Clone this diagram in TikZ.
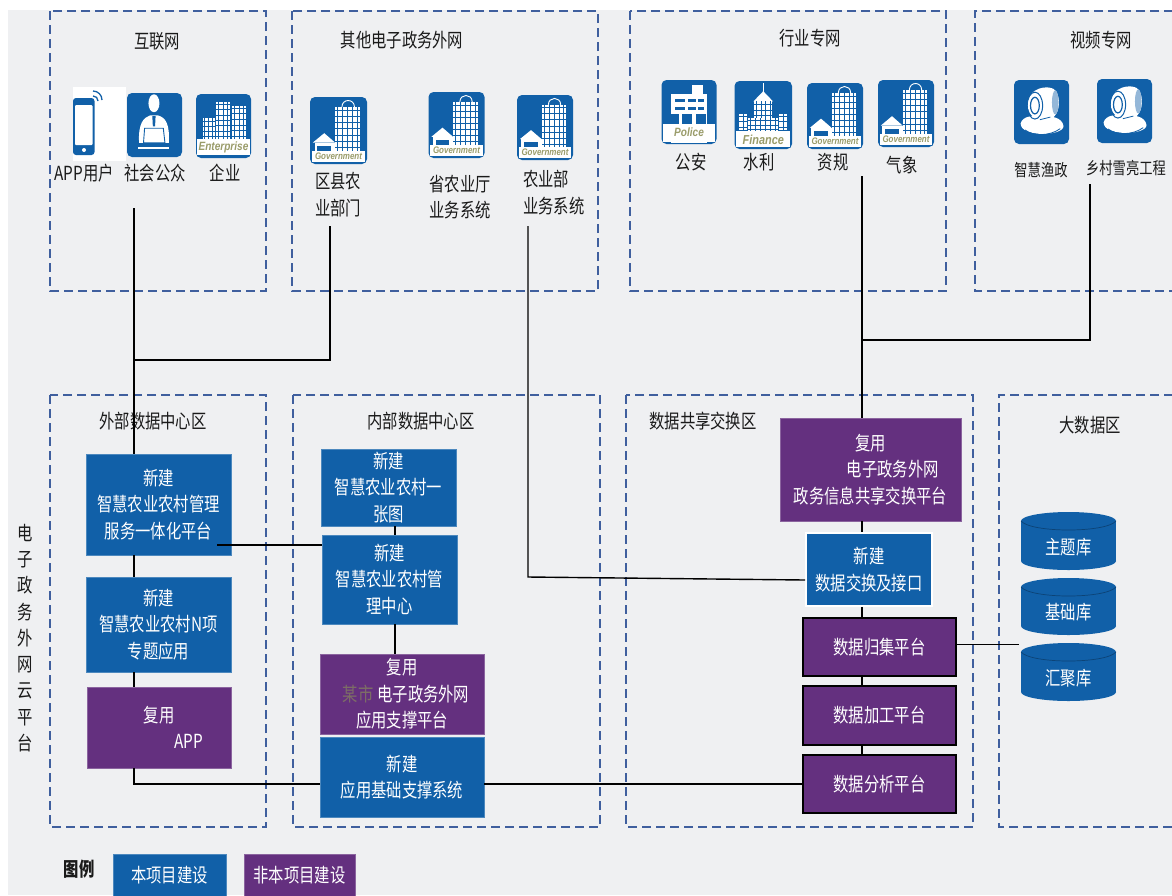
\documentclass[tikz,border=0pt]{standalone}
\usepackage{fontspec}
\setmainfont[FakeStretch=0.79]{Noto Sans CJK SC}
\newfontfamily\latinlab[FakeStretch=0.84]{Liberation Sans}
\definecolor{pagebg}{HTML}{EFF0F2}
\definecolor{zonecol}{HTML}{3F5F9E}
\definecolor{blu}{HTML}{1160A8}
\definecolor{pur}{HTML}{64307F}
\definecolor{olive}{HTML}{9A9C6A}
\definecolor{ink}{HTML}{1A1A1A}
\definecolor{dimtxt}{HTML}{7D6E66}
\tikzset{
  x=1pt,y=-1pt,
  zone/.style={draw=zonecol,line width=1.2pt,dash pattern=on 9pt off 5pt},
  lab/.style={text=ink,inner sep=0pt,font=\fontsize{19.4}{26.5}\selectfont,align=center},
  labs/.style={text=ink,inner sep=0pt,font=\fontsize{16.8}{20}\selectfont,align=center},
  blubox/.style={fill=blu,draw=blu!75!white,line width=.6pt,text=white,align=center,inner sep=0pt,font=\fontsize{19.4}{26.5}\selectfont},
  purbox/.style={fill=pur,draw=pur!75!white,line width=.6pt,text=white,align=center,inner sep=0pt,font=\fontsize{19.4}{26.5}\selectfont},
  purblk/.style={purbox,draw=black,line width=1.2pt},
  blwht/.style={blubox,draw=white,line width=1.6pt},
  conn/.style={draw=black,line width=1.4pt},
  dblab/.style={text=white,inner sep=0pt,font=\fontsize{19.4}{26}\selectfont},
  tile/.style={fill=blu,rounded corners=5pt},
  band/.style={inner sep=0pt,text=olive,font=\latinlab\bfseries\itshape\fontsize{9.5}{10}\selectfont},
  bandb/.style={inner sep=0pt,text=olive,font=\latinlab\bfseries\itshape\fontsize{12}{13}\selectfont},
}
\newcommand\bx[7]{%
  \pgfmathsetmacro\bw{#4-#2}\pgfmathsetmacro\bh{#5-#3}%
  \pgfmathsetmacro\bcx{(#2+#4)/2}\pgfmathsetmacro\bcy{(#3+#5)/2}%
  \node[#6,minimum width=\bw pt,minimum height=\bh pt] (#1) at (\bcx,\bcy) {#7};}
\newcommand\startIcon[4]{%
  \pgfmathsetmacro\ux{(#3-#1)/100}\pgfmathsetmacro\uy{(#4-#2)/100}%
  \begin{scope}[shift={(#1,#2)},x=\ux pt,y=-\uy pt]
  \fill[tile] (0,0) rectangle (100,100);}
\newcommand\gridrect[6]{%
  \fill[white] (#1,#2) rectangle (#3,#4);
  \pgfmathsetmacro\dx{(#3-#1)/#5}\pgfmathsetmacro\dy{(#4-#2)/#6}%
  \foreach \i in {1,...,#5}{\draw[blu,line width=.7pt] ({#1+\i*\dx-\dx/2},#2) -- ({#1+\i*\dx-\dx/2},#4);}
  \foreach \j in {1,...,#6}{\draw[blu,line width=.7pt] (#1,{#2+\j*\dy-\dy/2}) -- (#3,{#2+\j*\dy-\dy/2});}}
\newcommand\govicon[5]{%
  \startIcon{#2}{#3}{#4}{#5}
  \draw[white,line width=.9pt] (56,15) .. controls (56,2) and (78,2) .. (78,15);
  \gridrect{44}{15}{88}{80}{5}{7}
  \fill[white] (8,80) rectangle (44,68);
  \fill[white] (5,68) -- (25,54) -- (44,68) -- cycle;
  \fill[blu] (13,80) rectangle (37,73);
  \fill[white] (3,80) rectangle (97,97);
  \node[band] (#1) at (50,88.5) {Government};
  \end{scope}}
\newcommand\camicon[5]{%
  \startIcon{#2}{#3}{#4}{#5}
  \fill[white] (12,68) .. controls (15,55) and (40,55) .. (50,58) .. controls (65,55) and (88,58) .. (90,72) .. controls (90,88) and (12,90) .. (12,68) -- cycle;
  \fill[white] (25,35) .. controls (28,12) and (60,8) .. (72,14) .. controls (85,22) and (85,48) .. (72,58) .. controls (55,70) and (22,62) .. (25,35) -- cycle;
  \draw[blu,line width=.8pt] (20,78) .. controls (35,88) and (65,88) .. (84,76);
  \fill[white] (42,55) rectangle (62,75);
  \draw[blu,line width=1pt] (38,40) ellipse [x radius=14,y radius=21];
  \draw[blu,line width=1.2pt] (38,40) ellipse [x radius=8,y radius=13];
  \fill[blu!45!white] (75,35) ellipse [x radius=6,y radius=19];
  \draw[blu,line width=.8pt] (47,62) -- (66,58);
  \end{scope}}
\newcommand\dbcyl[6]{% name x1 y1 x2 y2 label
  \pgfmathsetmacro\cxm{(#2+#4)/2}\pgfmathsetmacro\crx{(#4-#2)/2}%
  \pgfmathsetmacro\ctop{#3+9}\pgfmathsetmacro\cbot{#5-9}\pgfmathsetmacro\ctx{(#3+#5)/2+6}%
  \fill[blu] (#2,\ctop) rectangle (#4,\cbot);
  \fill[blu] (\cxm,\ctop) ellipse [x radius=\crx,y radius=9];
  \fill[blu] (\cxm,\cbot) ellipse [x radius=\crx,y radius=9];
  \draw[blu!70!black,line width=.7pt] (#2,\ctop) .. controls (#2+10,\ctop+12) and (#4-10,\ctop+12) .. (#4,\ctop);
  \node[dblab] (#1) at (\cxm,\ctx) {#6};}
\begin{document}
\begin{tikzpicture}
\useasboundingbox (0,0) rectangle (1172,895);
\fill[pagebg] (8,10) rectangle (1172,895);
% upper zones
\draw[zone] (50,11) rectangle (266,291);
\draw[zone] (292,11) rectangle (598,291);
\draw[zone] (630,11) rectangle (946,291);
\draw[zone] (1173,11) -- (975,11) -- (975,291) -- (1173,291);
% lower zones
\draw[zone] (50,395) rectangle (266,827);
\draw[zone] (293,395) rectangle (600,827);
\draw[zone] (626,395) rectangle (973,827);
\draw[zone] (1173,395) -- (999,395) -- (999,827) -- (1173,827);
% zone titles
\node[lab] (t1) at (157,41) {互联网};
\node[lab] (t2) at (402,40) {其他电子政务外网};
\node[lab] (t3) at (810,38) {行业专网};
\node[lab] (t4) at (1101,40) {视频专网};
\node[lab] (t5) at (153,421) {外部数据中心区};
\node[lab] (t6) at (421,421) {内部数据中心区};
\node[lab] (t7) at (703,421) {数据共享交换区};
\node[lab] (t8) at (1090,425) {大数据区};
% vertical title
\node[lab,font=\fontsize{19.4}{26.3}\selectfont] (vt) at (25,638) {电\\子\\政\\务\\外\\网\\云\\平\\台};
% phone icon
\fill[white] (73,87) rectangle (126,161);
\fill[blu,rounded corners=3pt] (73,98) rectangle (94.5,155);
\fill[white,rounded corners=1pt] (75,105) rectangle (92.5,145);
\fill[white] (84,150) circle (2);
\draw[blu,line width=1.3pt] (93,96) .. controls (96,96) and (98,98) .. (98,101);
\draw[blu,line width=1.3pt] (93,91) .. controls (98,91) and (102,95) .. (102,100);
% person icon
\startIcon{127}{93}{182}{157}
\fill[white] (49,16) ellipse [x radius=10,y radius=14];
\fill[white] (22,78) .. controls (20,48) and (30,38) .. (42,35) -- (56,35) .. controls (70,38) and (78,48) .. (76,78) -- cycle;
\fill[blu] (46,36) -- (52,36) -- (51,52) -- (47,52) -- cycle;
\draw[blu,line width=.9pt,fill=white] (32,55) -- (66,55) -- (69,78) -- (30,78) -- cycle;
\fill[white] (20,84) rectangle (76,88);
\end{scope}
% enterprise icon
\startIcon{196}{94}{251}{158}
\gridrect{37}{12}{62}{70}{3}{7}
\gridrect{66}{18}{90}{70}{3}{6}
\gridrect{12}{38}{34}{70}{3}{4}
\fill[white] (2,70) rectangle (98,95);
\node[bandb] (ent) at (50,83) {Enterprise};
\end{scope}
% government icons
\govicon{g1}{310}{97}{367}{164}
\govicon{g2}{428.5}{92}{484.5}{158}
\govicon{g3}{517}{95}{573}{160}
\govicon{g4}{807}{83}{863}{149}
\govicon{g5}{878}{80}{934}{147}
% police icon
\startIcon{661.5}{80}{716.5}{144}
\fill[white] (55,8) rectangle (75,30);
\fill[white] (18,22) rectangle (82,98);
\fill[white] (3,68) rectangle (97,97);
\foreach \yy in {30,42}{\fill[blu] (24,\yy) rectangle (42,\yy+5); \fill[blu] (48,\yy) rectangle (62,\yy+5); \fill[blu] (66,\yy) rectangle (78,\yy+5);}
\foreach \xx in {14,38,62}{\fill[blu] (\xx,53) rectangle (\xx+18,68);}
\node[bandb] (pol) at (50,82) {Police};
\end{scope}
% finance icon
\startIcon{734.5}{81}{792}{149}
\draw[white,line width=1pt] (50,3) -- (50,20);
\fill[white] (33,30) -- (50,15) -- (67,30) -- cycle;
\gridrect{34}{30}{66}{55}{4}{3}
\gridrect{8}{48}{22}{72}{1}{3}
\gridrect{78}{48}{92}{72}{1}{3}
\gridrect{24}{55}{76}{75}{6}{3}
\fill[white] (3,74) rectangle (97,97);
\node[bandb,font=\latinlab\bfseries\itshape\fontsize{13}{14}\selectfont] (fin) at (50,86) {Finance};
\end{scope}
% camera icons
\camicon{cm1}{1014}{80}{1069}{144}
\camicon{cm2}{1097}{79}{1152}{143}
% icon captions
\node[lab] (a1) at (84,173) {APP用户};
\node[lab] (a2) at (155,173) {社会公众};
\node[lab] (a3) at (225,173) {企业};
\node[lab] (b1) at (338,194.5) {区县农\\业部门};
\node[lab] (b2) at (460,197) {省农业厅\\业务系统};
\node[lab,anchor=west,align=left] (b3) at (523,192.5) {农业部\\业务系统};
\node[lab] (c1) at (691,162) {公安};
\node[lab] (c2) at (759,162) {水利};
\node[lab] (c3) at (833,162) {资规};
\node[lab] (c4) at (902,165) {气象};
\node[labs] (d1) at (1041,170) {智慧渔政};
\node[labs] (d2) at (1126,168) {乡村雪亮工程};
% boxes
\bx{B1}{86}{454}{231}{555}{blubox}{新建\\智慧农业农村管理\\服务一体化平台}
\bx{B2}{86}{577}{231}{672}{blubox}{新建\\智慧农业农村N项\\专题应用}
\bx{B3}{87}{687}{231}{768}{purbox}{复用\\\hspace*{60pt}APP}
\bx{C1}{321}{449}{456}{526}{blubox}{新建\\智慧农业农村一\\张图}
\bx{C2}{322}{535}{457}{624}{blubox}{新建\\智慧农业农村管\\理中心}
\bx{C3}{320}{654}{484}{734}{purbox}{复用\\\hspace*{8pt}{\color{dimtxt}某市}\hspace{4pt}电子政务外网\\应用支撑平台}
\bx{C4}{320}{737}{484}{817}{blubox}{新建\\应用基础支撑系统}
\bx{D1}{780}{418}{961}{521}{purbox}{复用\\\hspace*{14pt}\hphantom{某市}电子政务外网\\政务信息共享交换平台}
\bx{D2}{806}{533}{932}{606}{blwht}{新建\\数据交换及接口}
\bx{D3}{803}{618}{956}{676}{purblk}{数据归集平台}
\bx{D4}{803}{686}{956}{745}{purblk}{数据加工平台}
\bx{D5}{803}{755}{956}{813}{purblk}{数据分析平台}
% databases
\dbcyl{E1}{1021}{512}{1116}{570}{主题库}
\dbcyl{E2}{1021}{578}{1116}{635}{基础库}
\dbcyl{E3}{1021}{643}{1116}{701}{汇聚库}
% legend
\node[lab,font=\bfseries\fontsize{19.4}{24}\selectfont] (lg) at (79,869) {图例};
\bx{L1}{113}{854}{226}{896}{blubox}{本项目建设}
\bx{L2}{244}{854}{355}{896}{purbox}{非本项目建设}
% free ends
\coordinate (p1) at (134,208);
\coordinate (p1j) at (134,360);
\coordinate (p2) at (330,226);
\coordinate (p3) at (528,226);
\coordinate (p3b) at (528,577);
\coordinate (p3e) at (805,580);
\coordinate (p4) at (862,176);
\coordinate (p4j) at (862,340);
\coordinate (p5) at (1090,184);
\coordinate (p6) at (217,545);
\coordinate (p7) at (134,784);
\coordinate (p8) at (395,530);
\coordinate (p9) at (1019,644);
% connectors
\draw[conn] (p1) -- (p1 |- B1.north);
\draw[conn] (p1j) -- (p1j -| p2) -- (p2);
\draw[conn] (p3) -- (p3b) -- (p3e);
\draw[conn] (p4) -- (p4 |- D1.north);
\draw[conn] (p5) -- (p5 |- p4j) -- (p4j);
\draw[conn] (p1 |- B1.south) -- (p1 |- B2.north);
\draw[conn] (p1 |- B2.south) -- (p1 |- B3.north);
\draw[conn] (p1 |- B3.south) -- (p7) -- (p7 -| C4.west);
\draw[conn] (p7 -| C4.east) -- (p7 -| D5.west);
\draw[conn] (p6) -- (p6 -| C2.west);
\draw[conn] (p8 |- C1.south) -- (p8 |- C2.north);
\draw[conn] (p8 |- C2.south) -- (p8 |- C3.north);
\draw[conn] (p4 |- D1.south) -- (p4 |- D2.north);
\draw[conn] (p4 |- D2.south) -- (p4 |- D3.north);
\draw[conn] (p4 |- D3.south) -- (p4 |- D4.north);
\draw[conn] (p4 |- D4.south) -- (p4 |- D5.north);
\draw[conn,line width=1pt] (p9 -| D3.east) -- (p9);
\end{tikzpicture}
\end{document}
